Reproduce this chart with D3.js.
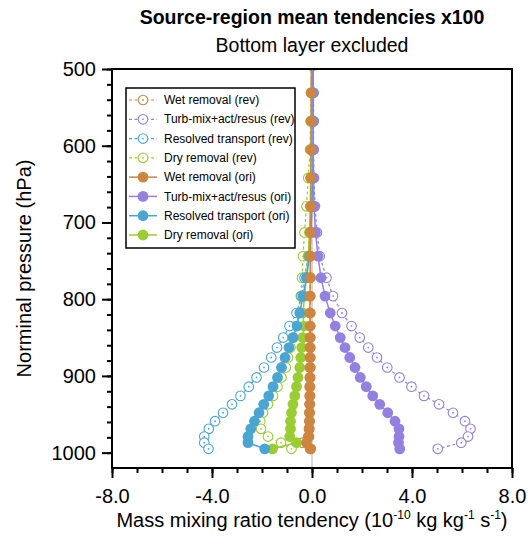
<!DOCTYPE html>
<html>
<head>
<meta charset="utf-8">
<script src="https://cdn.jsdelivr.net/npm/d3@7"></script>
<style>
  html, body { margin: 0; padding: 0; background: #fff; }
  svg { display: block; font-family: "Liberation Sans", Arial, Helvetica, sans-serif; }
</style>
</head>
<body>
<div id="chart"></div>
<script>
// model levels (hPa)
const levels = [495, 531, 568, 605, 642, 679, 713, 744, 772, 796, 818, 835, 850, 863, 876, 889, 902, 914, 926, 937, 948, 959, 969, 979, 987, 995];

// tendencies x100, 10^-10 kg/kg/s
const wetRev  = [-0.02, -0.02, -0.03, -0.03, -0.04, -0.05, -0.05, -0.06, -0.06, -0.07, -0.07, -0.07, -0.07, -0.07, -0.07, -0.07, -0.08, -0.08, -0.08, -0.09, -0.10, -0.10, -0.12, -0.15, -0.38, -0.08];
const turbRev = [0.03, 0.04, 0.05, 0.06, 0.08, 0.12, 0.20, 0.31, 0.58, 0.84, 1.20, 1.58, 1.91, 2.25, 2.60, 3.01, 3.50, 3.98, 4.48, 5.08, 5.64, 6.12, 6.34, 6.24, 5.97, 5.03];
const resRev  = [0.05, 0.06, 0.07, 0.06, 0.04, -0.02, -0.08, -0.15, -0.30, -0.42, -0.62, -0.90, -1.15, -1.40, -1.63, -1.92, -2.22, -2.53, -2.86, -3.20, -3.56, -3.88, -4.13, -4.31, -4.31, -4.14];
const dryRev  = [-0.03, -0.04, -0.06, -0.08, -0.15, -0.22, -0.30, -0.36, -0.40, -0.45, -0.52, -0.65, -0.75, -0.86, -0.96, -1.05, -1.22, -1.38, -1.56, -1.76, -1.96, -2.07, -2.04, -1.76, -1.24, -0.82];
const wetOri  = [-0.02, -0.03, -0.03, -0.04, -0.05, -0.05, -0.06, -0.07, -0.07, -0.08, -0.08, -0.08, -0.08, -0.08, -0.08, -0.08, -0.08, -0.09, -0.09, -0.09, -0.10, -0.10, -0.11, -0.12, -0.22, -0.05];
const turbOri = [0.03, 0.03, 0.04, 0.05, 0.06, 0.08, 0.14, 0.24, 0.36, 0.52, 0.73, 0.93, 1.13, 1.32, 1.51, 1.72, 1.93, 2.17, 2.43, 2.71, 3.03, 3.32, 3.48, 3.48, 3.46, 3.51];
const resOri  = [0.05, 0.05, 0.05, 0.04, 0.03, 0.00, -0.04, -0.10, -0.22, -0.36, -0.49, -0.60, -0.76, -0.92, -1.08, -1.22, -1.38, -1.56, -1.73, -1.93, -2.12, -2.30, -2.45, -2.56, -2.56, -1.89];
const dryOri  = [-0.02, -0.02, -0.03, -0.04, -0.05, -0.07, -0.10, -0.15, -0.22, -0.30, -0.36, -0.33, -0.36, -0.41, -0.45, -0.49, -0.56, -0.62, -0.69, -0.76, -0.82, -0.86, -0.86, -0.89, -0.62, -1.58];

const xMajor = [-8, -4, 0, 4, 8];
const yMajor = [500, 600, 700, 800, 900, 1000];

const colWet = '#cd853f', colTurb = '#9380e0', colRes = '#4aa5d2', colDry = '#9acd32';

const series = [
  { name: 'Wet removal (rev)',         vals: wetRev,  color: colWet,  rev: true },
  { name: 'Turb-mix+act/resus (rev)',  vals: turbRev, color: colTurb, rev: true },
  { name: 'Resolved transport (rev)',  vals: resRev,  color: colRes,  rev: true },
  { name: 'Dry removal (rev)',         vals: dryRev,  color: colDry,  rev: true },
  { name: 'Wet removal (ori)',         vals: wetOri,  color: colWet,  rev: false },
  { name: 'Turb-mix+act/resus (ori)',  vals: turbOri, color: colTurb, rev: false },
  { name: 'Resolved transport (ori)',  vals: resOri,  color: colRes,  rev: false },
  { name: 'Dry removal (ori)',         vals: dryOri,  color: colDry,  rev: false }
];

const W = 528, H = 546;
const pLeft = 112, pRight = 512, pTop = 69, pBottom = 468;

const svg = d3.select('#chart').append('svg')
  .attr('width', W)
  .attr('height', H);

const x = d3.scaleLinear().domain([-8, 8]).range([pLeft, pRight]);
const y = d3.scaleLinear().domain([500, 1020]).range([pTop, pBottom]);

svg.append('defs').append('clipPath').attr('id', 'plotClip')
  .append('rect')
  .attr('x', pLeft).attr('y', pTop)
  .attr('width', pRight - pLeft).attr('height', pBottom - pTop);

// zero line
svg.append('line')
  .attr('x1', x(0)).attr('x2', x(0))
  .attr('y1', pTop).attr('y2', pBottom)
  .attr('stroke', '#b4b4b4')
  .attr('stroke-width', 1);

const plot = svg.append('g').attr('clip-path', 'url(#plotClip)');

const line = d3.line()
  .x(d => x(d[0]))
  .y(d => y(d[1]));

// draw order: dry, resolved, turb, wet (rev first, then ori)
const order = [3, 2, 1, 0, 7, 6, 5, 4];
order.forEach(i => {
  const s = series[i];
  const pts = s.vals.map((v, k) => [v, levels[k]]);
  const g = plot.append('g');
  g.append('path')
    .datum(pts)
    .attr('d', line)
    .attr('fill', 'none')
    .attr('stroke', s.color)
    .attr('stroke-width', s.rev ? 1.2 : 1.5)
    .attr('stroke-dasharray', s.rev ? '3,2.5' : null);
  if (s.rev) {
    g.selectAll('circle.m').data(pts).join('circle')
      .attr('class', 'm')
      .attr('cx', d => x(d[0])).attr('cy', d => y(d[1]))
      .attr('r', 4.8)
      .attr('fill', '#fff')
      .attr('stroke', s.color)
      .attr('stroke-width', 1.1);
    g.selectAll('circle.c').data(pts).join('circle')
      .attr('class', 'c')
      .attr('cx', d => x(d[0])).attr('cy', d => y(d[1]))
      .attr('r', 0.9)
      .attr('fill', s.color);
  } else {
    g.selectAll('circle.m').data(pts).join('circle')
      .attr('class', 'm')
      .attr('cx', d => x(d[0])).attr('cy', d => y(d[1]))
      .attr('r', 5.4)
      .attr('fill', s.color);
  }
});

// axes
const xMinorAxis = d3.axisBottom(x).tickValues(d3.range(-8, 9, 1)).tickSize(5).tickFormat('');
const xAxis = d3.axisBottom(x).tickValues(xMajor).tickSize(10).tickPadding(11).tickFormat(d => d.toFixed(1));
const yMinorAxis = d3.axisLeft(y).tickValues(d3.range(500, 1001, 20)).tickSize(5).tickFormat('');
const yAxis = d3.axisLeft(y).tickValues(yMajor).tickSize(10).tickPadding(6).tickFormat(d => String(d));

[xMinorAxis, xAxis].forEach(a => {
  svg.append('g').attr('transform', `translate(0,${pBottom})`).call(a)
    .call(g => g.select('.domain').remove())
    .call(g => g.selectAll('line').attr('stroke', '#000').attr('stroke-width', 2))
    .call(g => g.selectAll('text').attr('font-size', 20).attr('fill', '#000').attr('font-family', null));
});
[yMinorAxis, yAxis].forEach(a => {
  svg.append('g').attr('transform', `translate(${pLeft},0)`).call(a)
    .call(g => g.select('.domain').remove())
    .call(g => g.selectAll('line').attr('stroke', '#000').attr('stroke-width', 2))
    .call(g => g.selectAll('text').attr('font-size', 20).attr('fill', '#000').attr('font-family', null));
});

// frame
svg.append('rect')
  .attr('x', pLeft).attr('y', pTop)
  .attr('width', pRight - pLeft).attr('height', pBottom - pTop)
  .attr('fill', 'none')
  .attr('stroke', '#000')
  .attr('stroke-width', 2);

// titles
svg.append('text')
  .attr('x', (pLeft + pRight) / 2).attr('y', 24)
  .attr('text-anchor', 'middle')
  .attr('font-size', 19.5).attr('font-weight', 'bold')
  .text('Source-region mean tendencies x100');

svg.append('text')
  .attr('x', (pLeft + pRight) / 2).attr('y', 52)
  .attr('text-anchor', 'middle')
  .attr('font-size', 19.5)
  .text('Bottom layer excluded');

svg.append('text')
  .attr('transform', `translate(31,${(pTop + pBottom) / 2}) rotate(-90)`)
  .attr('text-anchor', 'middle')
  .attr('font-size', 20)
  .text('Norminal pressure (hPa)');

const xt = svg.append('text')
  .attr('x', (pLeft + pRight) / 2).attr('y', 527)
  .attr('text-anchor', 'middle')
  .attr('font-size', 20);
xt.append('tspan').text('Mass mixing ratio tendency (10');
xt.append('tspan').attr('font-size', 12).attr('dy', -8).text('-10');
xt.append('tspan').attr('dy', 8).text(' kg kg');
xt.append('tspan').attr('font-size', 12).attr('dy', -8).text('-1');
xt.append('tspan').attr('dy', 8).text(' s');
xt.append('tspan').attr('font-size', 12).attr('dy', -8).text('-1');
xt.append('tspan').attr('dy', 8).text(')');

// legend
const lg = svg.append('g');
lg.append('rect')
  .attr('x', 126).attr('y', 88)
  .attr('width', 169).attr('height', 160)
  .attr('fill', '#fff')
  .attr('stroke', '#000')
  .attr('stroke-width', 1.5);

const rowY = d3.scaleLinear().domain([0, 7]).range([100, 235]);
series.forEach((s, i) => {
  const ry = rowY(i);
  const r = lg.append('g');
  r.append('line')
    .attr('x1', 129).attr('x2', 157)
    .attr('y1', ry).attr('y2', ry)
    .attr('stroke', s.color)
    .attr('stroke-width', s.rev ? 1.2 : 1.5)
    .attr('stroke-dasharray', s.rev ? '3,2.5' : null);
  if (s.rev) {
    r.append('circle').attr('cx', 143).attr('cy', ry).attr('r', 4.8)
      .attr('fill', '#fff').attr('stroke', s.color).attr('stroke-width', 1.1);
    r.append('circle').attr('cx', 143).attr('cy', ry).attr('r', 0.9).attr('fill', s.color);
  } else {
    r.append('circle').attr('cx', 143).attr('cy', ry).attr('r', 5.4).attr('fill', s.color);
  }
  r.append('text')
    .attr('x', 164).attr('y', ry)
    .attr('dy', '0.35em')
    .attr('font-size', 12)
    .text(s.name);
});
</script>
</body>
</html>
